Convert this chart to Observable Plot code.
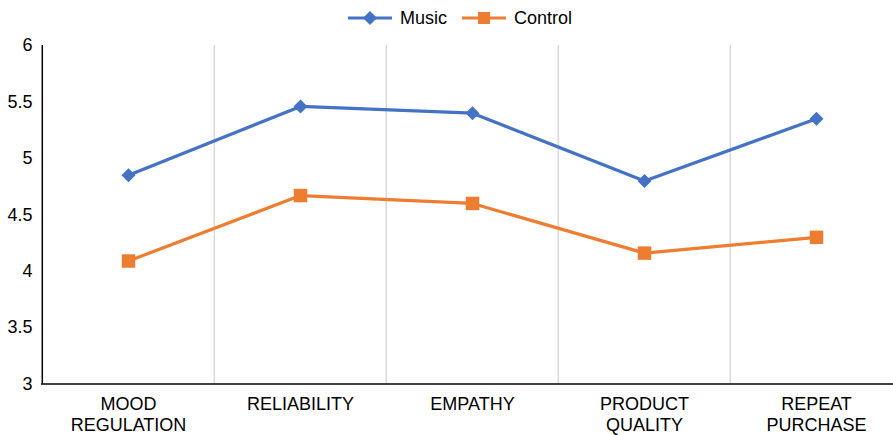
<!DOCTYPE html>
<html><head><meta charset="utf-8">
<script src="https://cdn.jsdelivr.net/npm/d3@7"></script>
<script src="https://cdn.jsdelivr.net/npm/@observablehq/plot@0.6"></script>
<style>
body{margin:0;background:#fff;font-family:"Liberation Sans",Arial,Helvetica,sans-serif;}
#legend{position:relative;height:35px;width:893px;}
.item{position:absolute;top:0;height:36px;display:flex;align-items:center;font-size:18px;color:#000;}
.item svg{margin-right:8px;}
#chart svg{display:block;}
</style></head><body>
<div id="legend"></div><div id="chart"></div>
<script>
const categories = ["MOOD REGULATION","RELIABILITY","EMPATHY","PRODUCT QUALITY","REPEAT PURCHASE"];
const tickLabels = ["MOOD\nREGULATION","RELIABILITY","EMPATHY","PRODUCT\nQUALITY","REPEAT\nPURCHASE"];
const seriesNames = ["Music","Control"];
const music = [4.85, 5.46, 5.40, 4.80, 5.35];
const control = [4.09, 4.67, 4.60, 4.16, 4.30];
const yTicks = [3, 3.5, 4, 4.5, 5, 5.5, 6];
const colors = ["#4472C4", "#ED7D31"];

const rows = [];
categories.forEach((c, i) => {
  rows.push({cat: c, series: "Music", value: music[i]});
  rows.push({cat: c, series: "Control", value: control[i]});
});

const x0 = 41, x1 = 903;
const bw = (x1 - x0) / categories.length;

const plot = Plot.plot({
  width: 893,
  height: 400,
  marginTop: 10,
  marginBottom: 51.5,
  marginLeft: 41,
  marginRight: 0,
  style: {fontFamily: '"Liberation Sans", Arial, Helvetica, sans-serif', fontSize: "18px", color: "#000", background: "#fff"},
  x: {type: "band", domain: categories, range: [x0, x1], padding: 0},
  y: {domain: [3, 6]},
  color: {domain: seriesNames, range: colors},
  marks: [
    Plot.ruleX(categories.slice(1), {dx: -bw / 2, stroke: "#d9d9d9", strokeWidth: 1.5, strokeOpacity: 1}),
    Plot.ruleY([3], {stroke: "#000", strokeWidth: 1.5}),
    Plot.ruleX([categories[0]], {y1: 3, y2: 6, dx: -bw / 2, stroke: "#000", strokeWidth: 1.5}),
    Plot.axisY({ticks: yTicks, tickSize: 0, tickPadding: 9, fontSize: 18, label: null, tickFormat: (d) => String(d)}),
    Plot.axisX({tickSize: 0, tickPadding: 11, fontSize: 18, lineHeight: 1.17, label: null,
      tickFormat: (d) => tickLabels[categories.indexOf(d)]}),
    Plot.line(rows, {x: "cat", y: "value", z: "series", stroke: "series", strokeWidth: 3.2}),
    Plot.dot(rows.filter(d => d.series === "Music"), {x: "cat", y: "value", symbol: "diamond2", r: 6.3, fill: colors[0], stroke: "none"}),
    Plot.dot(rows.filter(d => d.series === "Control"), {x: "cat", y: "value", symbol: "square", r: 7.6, fill: colors[1], stroke: "none"})
  ]
});
document.getElementById("chart").appendChild(plot);

// legend
const legend = document.getElementById("legend");
const legendX = [348, 462];
seriesNames.forEach((name, i) => {
  const item = document.createElement("div");
  item.className = "item";
  item.style.left = legendX[i] + "px";
  const sym = i === 0
    ? `<polygon points="22,11 29,18 22,25 15,18" fill="${colors[0]}"/>`
    : `<rect x="16" y="12" width="12" height="12" fill="${colors[1]}"/>`;
  item.innerHTML = `<svg width="44" height="36" viewBox="0 0 44 36"><line x1="0" x2="44" y1="18" y2="18" stroke="${colors[i]}" stroke-width="3.2"/>${sym}</svg><span>${name}</span>`;
  legend.appendChild(item);
});
</script>
</body></html>
